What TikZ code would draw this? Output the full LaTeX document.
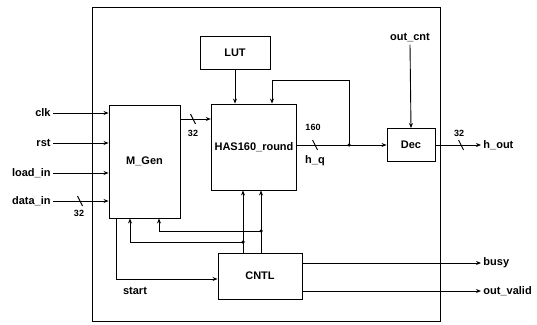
\documentclass[tikz,border=0pt]{standalone}
\usepackage{fontspec}
\setmainfont{Liberation Sans}
\usepackage{tikz}
\usetikzlibrary{arrows.meta}

\newcommand{\busmark}[1]{\draw (#1) ++(-2.5,-5) -- ++(5,10);}

\begin{document}
\begin{tikzpicture}[
    x=1pt, y=-1pt,
    line width=0.9pt,
    >={Stealth[length=5pt,width=4pt]},
    block/.style={draw, font=\fontsize{11}{13}\selectfont\bfseries},
    sig/.style={font=\fontsize{11}{13}\selectfont\bfseries, inner sep=2pt},
    bus/.style={font=\fontsize{9}{10}\selectfont\bfseries, inner sep=1pt},
    dot/.style={circle, fill, inner sep=0pt, minimum size=3.5pt}
]
\useasboundingbox (0,0) rectangle (537,324);

% System boundary
\draw (92,7) rectangle (440,321);

% Blocks
\node[block, minimum width=71pt, minimum height=113pt] (mgen) at (144.5,161.5) {M\_Gen};
\node[block, minimum width=84pt, minimum height=86pt] (has) at (254,147) {HAS160\_round};
\node[block, minimum width=70pt, minimum height=33pt] (lut) at (235,53) {LUT};
\node[block, minimum width=48pt, minimum height=33pt] (dec) at (411,145) {Dec};
\node[block, minimum width=84pt, minimum height=46pt] (cntl) at (260,276) {CNTL};

% Inputs
\node[sig, anchor=east] (clk) at (53,113) {clk};
\node[sig, anchor=east] (rst) at (53,143) {rst};
\node[sig, anchor=east] (loadin) at (53,173) {load\_in};
\node[sig, anchor=east] (datain) at (53,201) {data\_in};
\draw[->] (clk.east) -- (mgen.west |- clk);
\draw[->] (rst.east) -- (mgen.west |- rst);
\draw[->] (loadin.east) -- (mgen.west |- loadin);
\draw[->] (datain.east) -- (mgen.west |- datain);
\busmark{80,201}
\node[bus] (w1) at (79,213) {32};

% M_Gen to HAS160_round
\draw[->] (mgen.east |- 0,119) -- (has.west |- 0,119);
\busmark{193,119}
\node[bus] (w2) at (193,133) {32};

% LUT
\draw[->] (lut.south) -- (has.north -| lut.south);

% h_q and feedback
\coordinate (fb) at (349,145);
\coordinate (fbtop) at (349,80);
\draw[->] (has.east |- fb) -- (dec.west |- fb);
\node[dot] (fbdot) at (fb) {};
\draw[->] (fb) -- (fbtop) -| ([xshift=18pt]has.north);
\busmark{315,145}
\node[bus] (w3) at (313,127) {160};
\node[sig] (hq) at (315,161) {h\_q};

% Dec
\node[sig] (outcnt) at (410,38) {out\_cnt};
\draw[->] (outcnt.south) -- (dec.north);
\node[sig, anchor=west] (hout) at (481,145) {h\_out};
\draw[->] (dec.east) -- (hout.west);
\busmark{461,145}
\node[bus] (w4) at (459,133) {32};

% CNTL wiring
\coordinate (ja) at (243,242);
\coordinate (jb) at (261,231);
\draw[->] (cntl.north -| ja) -- (has.south -| ja);
\draw[->] (cntl.north -| jb) -- (has.south -| jb);
\draw[->] (ja) -| ([xshift=-14.5pt]mgen.south);
\draw[->] (jb) -| ([xshift=14.5pt]mgen.south);
\node[dot] (dota) at (ja) {};
\node[dot] (dotb) at (jb) {};
\coordinate (st) at (116,279);
\draw[->] (mgen.south -| st) -- (st) -- (cntl.west |- st);
\node[sig] (start) at (135,291) {start};

% Outputs
\node[sig, anchor=west] (busy) at (481,263) {busy};
\node[sig, anchor=west] (outvalid) at (481,291) {out\_valid};
\draw[->] (cntl.east |- busy) -- (busy.west);
\draw[->] (cntl.east |- outvalid) -- (outvalid.west);

\end{tikzpicture}
\end{document}
